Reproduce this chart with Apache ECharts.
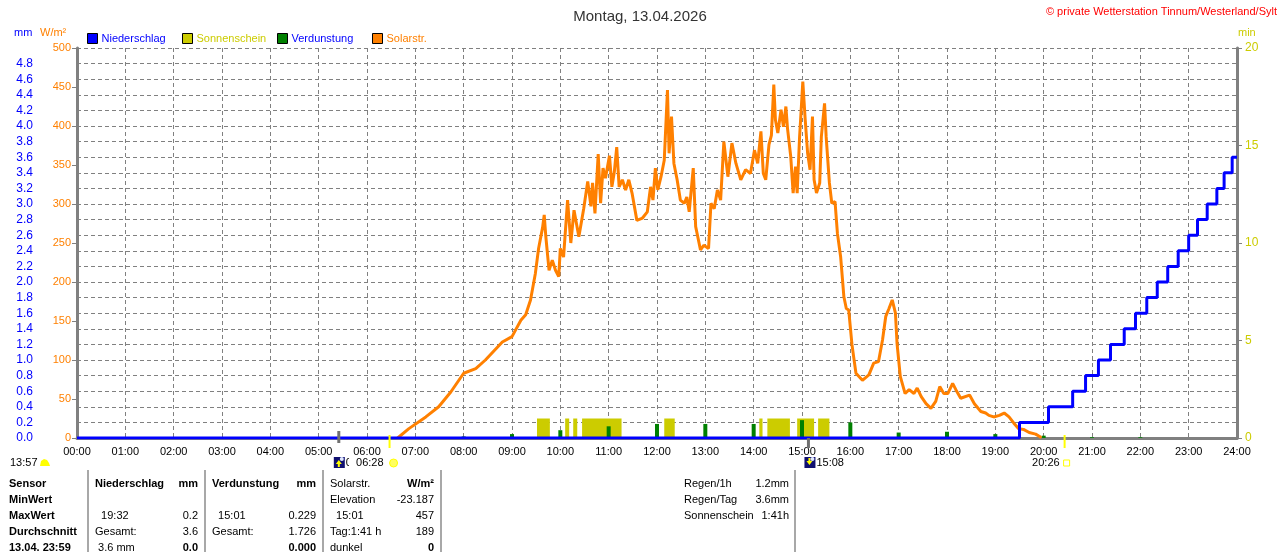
<!DOCTYPE html>
<html>
<head>
<meta charset="utf-8">
<script src="https://cdn.jsdelivr.net/npm/echarts@6/dist/echarts.min.js"></script>
<style>
  html, body { margin: 0; padding: 0; background: #fff; }
  #chart { width: 1280px; height: 552px; }
</style>
</head>
<body>
<div id="chart"></div>
<script>
// Zeitachse in Minuten seit 00:00
const hourTicks = 60

// Niederschlag (Summe mm), Stufen
const rainTimes = ['00:00', '19:30', '20:06', '20:36', '20:52', '21:08', '21:23', '21:40', '21:54', '22:08',
  '22:21', '22:34', '22:47', '23:00', '23:11', '23:23', '23:35', '23:44', '23:54', '24:00']
const rainValues = [0, 0.2, 0.4, 0.6, 0.8, 1.0, 1.2, 1.4, 1.6, 1.8,
  2.0, 2.2, 2.4, 2.6, 2.8, 3.0, 3.2, 3.4, 3.6, 3.6]

// Sonnenschein (min), Intervalle
const sunStart = ['09:31', '10:06', '10:16', '10:27', '12:09', '14:07', '14:17', '14:54', '15:20']
const sunEnd = ['09:47', '10:11', '10:21', '11:16', '12:22', '14:11', '14:45', '15:15', '15:34']
const sunValues = [1, 1, 1, 1, 1, 1, 1, 1, 1]

// Verdunstung (mm) je Stunde
const evapTimes = ['01:00', '02:00', '03:00', '04:00', '05:00', '06:00', '08:00', '09:00', '10:00', '11:00',
  '12:00', '13:00', '14:00', '15:00', '16:00', '17:00', '18:00', '19:00', '20:00', '21:00', '22:00']
const evapValues = [0.01, 0.01, 0.01, 0.01, 0.01, 0.01, 0.02, 0.05, 0.10, 0.15,
  0.18, 0.18, 0.18, 0.229, 0.20, 0.07, 0.08, 0.05, 0.03, 0.01, 0.01]

// Solarstrahlung (W/m²)
const solarTimes = ['06:38', '06:40', '06:52', '07:13', '07:29', '07:44', '08:00', '08:15', '08:27', '08:48',
  '09:00', '09:11', '09:17', '09:23', '09:29', '09:33', '09:38', '09:40', '09:42', '09:46',
  '09:50', '09:54', '09:58', '10:00', '10:04', '10:09', '10:13', '10:17', '10:23', '10:29',
  '10:34', '10:38', '10:40', '10:43', '10:47', '10:50', '10:53', '10:56', '11:01', '11:04',
  '11:07', '11:10', '11:13', '11:17', '11:21', '11:25', '11:29', '11:35', '11:42', '11:48',
  '11:52', '11:55', '11:58', '12:01', '12:05', '12:09', '12:13', '12:15', '12:18', '12:21',
  '12:25', '12:29', '12:34', '12:37', '12:40', '12:45', '12:48', '12:54', '12:58', '13:04',
  '13:07', '13:11', '13:15', '13:19', '13:23', '13:28', '13:33', '13:38', '13:44', '13:50',
  '13:56', '14:01', '14:05', '14:09', '14:12', '14:15', '14:19', '14:22', '14:25', '14:27',
  '14:30', '14:34', '14:37', '14:40', '14:42', '14:46', '14:49', '14:52', '14:54', '14:57',
  '14:59', '15:01', '15:04', '15:07', '15:10', '15:13', '15:15', '15:18', '15:22', '15:24',
  '15:28', '15:30', '15:34', '15:37', '15:41', '15:44', '15:48', '15:52', '15:55', '15:58',
  '16:02', '16:04', '16:07', '16:15', '16:23', '16:29', '16:35', '16:40', '16:44', '16:48',
  '16:52', '16:56', '16:58', '17:02', '17:08', '17:13', '17:19', '17:23', '17:28', '17:34',
  '17:40', '17:46', '17:51', '17:56', '18:01', '18:07', '18:11', '18:17', '18:28', '18:34',
  '18:42', '18:48', '18:52', '18:58', '19:05', '19:11', '19:17', '19:23', '19:29', '19:35',
  '19:42', '19:50', '19:55', '19:57']
const solarValues = [0, 2, 12, 27, 40, 59, 83, 89, 100, 123,
  130, 151, 158, 177, 211, 243, 270, 286, 258, 215,
  228, 215, 207, 243, 232, 305, 250, 292, 258, 294,
  329, 297, 327, 288, 364, 301, 346, 333, 362, 322,
  341, 373, 322, 331, 318, 331, 314, 279, 282, 290,
  322, 305, 346, 318, 335, 356, 446, 365, 412, 352,
  331, 305, 301, 309, 290, 346, 271, 241, 247, 243,
  301, 294, 318, 305, 380, 335, 378, 352, 331, 344,
  339, 369, 352, 393, 339, 331, 376, 388, 453, 408,
  391, 421, 399, 425, 397, 361, 314, 348, 314, 386,
  421, 457, 408, 365, 344, 412, 331, 314, 327, 386,
  429, 386, 327, 301, 303, 262, 232, 181, 166, 164,
  120, 105, 83, 74, 81, 96, 98, 126, 156, 166,
  177, 160, 121, 79, 57, 62, 57, 64, 53, 44,
  38, 47, 66, 57, 57, 70, 62, 51, 55, 44,
  34, 32, 29, 27, 29, 32, 27, 19, 12, 11,
  7, 5, 2, 0]

// Sonne / Mond
const sunRise = '06:28'
const sunSet = '20:26'
const moonRise = '05:25'
const moonSet = '15:08'

// Tabelle unten
const tableRows = [
  ['Sensor', 'Niederschlag', 'mm', 'Verdunstung', 'mm', 'Solarstr.', 'W/m²'],
  ['MinWert', '', '', '', '', 'Elevation', '-23.187'],
  ['MaxWert', '  19:32', '0.2', '  15:01', '0.229', '  15:01', '457'],
  ['Durchschnitt', 'Gesamt:', '3.6', 'Gesamt:', '1.726', 'Tag:1:41 h', '189'],
  ['13.04. 23:59', ' 3.6 mm', '0.0', '', '0.000', 'dunkel', '0']
]
const infoLabels = ['Regen/1h', 'Regen/Tag', 'Sonnenschein']
const infoValues = ['1.2mm', '3.6mm', '1:41h']

const toMin = (s) => {
  const [h, m] = s.split(':').map(Number)
  return h * 60 + m
}
const pad = (n) => String(n).padStart(2, '0')

const FONT = '"Liberation Sans", Arial, sans-serif'
const GRAY = '#808080'
const BLUE = '#0000ff'
const ORANGE = '#ff8000'
const YELLOW = '#cccc00'
const GREEN = '#008000'

const chart = echarts.init(document.getElementById('chart'))

const legendAt = (left, name, color) => ({
  left, top: 33, padding: 0, itemWidth: 10, itemHeight: 10, icon: 'rect',
  itemStyle: { borderColor: '#000', borderWidth: 1 },
  selectedMode: false,
  textStyle: { color, fontSize: 11, fontFamily: FONT, padding: [0, 0, 0, -1] },
  data: [name]
})

chart.setOption({
  animation: false,
  textStyle: { fontFamily: FONT },
  title: {
    text: 'Montag, 13.04.2026', left: 'center', top: 4,
    textStyle: { fontSize: 15, fontWeight: 'normal', color: '#333', fontFamily: FONT }
  },
  legend: [
    legendAt(87, 'Niederschlag', BLUE),
    legendAt(182, 'Sonnenschein', YELLOW),
    legendAt(277, 'Verdunstung', BLUE),
    legendAt(372, 'Solarstr.', ORANGE)
  ],
  grid: { left: 77, right: 43, top: 48, bottom: 114, show: false },
  xAxis: [{
    type: 'value', min: 0, max: 1440, interval: hourTicks,
    axisLine: { show: true, onZero: false, lineStyle: { color: GREEN, width: 1 } },
    axisTick: { show: false },
    axisLabel: { color: '#000', fontSize: 11, margin: 8, showMaxLabel: true, formatter: (v) => pad(v / 60) + ':00' },
    splitLine: { show: true, lineStyle: { color: GRAY, type: [4, 3], width: 1 } }
  }, {
    type: 'value', min: 0, max: 1440, interval: hourTicks, position: 'top',
    axisLine: { show: true, lineStyle: { color: GRAY, width: 3 } },
    axisTick: { show: false }, axisLabel: { show: false }, splitLine: { show: false }
  }],
  yAxis: [{
    type: 'value', min: 0, max: 5, interval: 0.2, position: 'left', offset: 37,
    axisLine: { show: true, lineStyle: { color: GRAY, width: 1 } },
    axisTick: { show: true, inside: true, length: 4, lineStyle: { color: GRAY } },
    axisLabel: { color: BLUE, fontSize: 12, margin: 7, formatter: (v) => (v >= 4.99 ? '' : v.toFixed(1)) },
    splitLine: { show: true, lineStyle: { color: GRAY, type: [4, 3], width: 1 } }
  }, {
    type: 'value', min: 0, max: 500, interval: 50, position: 'left', offset: 0,
    axisLine: { show: true, lineStyle: { color: GRAY, width: 3 } },
    axisTick: { show: true, length: 5, lineStyle: { color: GRAY } },
    axisLabel: { color: ORANGE, fontSize: 11, margin: 6 },
    splitLine: { show: false }
  }, {
    type: 'value', min: 0, max: 20, interval: 5, position: 'right',
    axisLine: { show: true, lineStyle: { color: GRAY, width: 3 } },
    axisTick: { show: true, length: 5, lineStyle: { color: GRAY } },
    axisLabel: { color: YELLOW, fontSize: 12, margin: 8 },
    splitLine: { show: false }
  }],
  series: [{
    name: 'Sonnenschein', type: 'custom', xAxisIndex: 0, yAxisIndex: 2,
    itemStyle: { color: YELLOW },
    encode: { x: [0, 1], y: 2 },
    data: sunStart.map((s, i) => [toMin(s), toMin(sunEnd[i]), sunValues[i]]),
    renderItem: (params, api) => {
      const p1 = api.coord([api.value(0), api.value(2)])
      const p2 = api.coord([api.value(1), 0])
      return {
        type: 'rect',
        shape: { x: p1[0], y: p1[1], width: p2[0] - p1[0], height: p2[1] - p1[1] },
        style: { fill: YELLOW }
      }
    }
  }, {
    name: 'Verdunstung', type: 'bar', xAxisIndex: 0, yAxisIndex: 0,
    color: GREEN, barWidth: 4,
    data: evapTimes.map((t, i) => [toMin(t), evapValues[i]])
  }, {
    name: 'Solarstr.', type: 'line', xAxisIndex: 0, yAxisIndex: 1,
    color: ORANGE, showSymbol: false, symbol: 'none',
    lineStyle: { width: 3, color: ORANGE },
    data: solarTimes.map((t, i) => [toMin(t), solarValues[i]])
  }, {
    name: 'Niederschlag', type: 'line', xAxisIndex: 0, yAxisIndex: 0,
    color: BLUE, showSymbol: false, symbol: 'none', step: 'end',
    lineStyle: { width: 3, color: BLUE },
    data: rainTimes.map((t, i) => [toMin(t), rainValues[i]])
  }]
})

// Texte und Marker
const txt = (x, y, text, o = {}) => ({
  type: 'text', x, y, silent: true,
  style: {
    text, fill: o.color || '#000', font: (o.bold ? 'bold ' : '') + (o.size || 11) + 'px ' + FONT,
    align: o.align || 'left', verticalAlign: 'middle',
    backgroundColor: o.bg, padding: o.bg ? [0, 2, 0, 7] : 0
  },
  z: o.z || 10
})
const vline = (x, y1, y2, color, w) => ({
  type: 'line', silent: true, z: 20,
  shape: { x1: x, y1, x2: x, y2 }, style: { stroke: color, lineWidth: w }
})
const px = (t) => chart.convertToPixel({ xAxisIndex: 0 }, toMin(t))

const g = []
g.push(txt(1277, 12, '© private Wetterstation Tinnum/Westerland/Sylt', { color: '#ff0000', align: 'right' }))
g.push(txt(14, 33, 'mm', { color: BLUE }))
g.push(txt(40, 33, 'W/m²', { color: ORANGE }))
g.push(txt(1238, 33, 'min', { color: YELLOW }))

// Sonnenauf-/untergang, Mondauf-/untergang
const xRise = px(sunRise), xSet = px(sunSet), xMR = px(moonRise), xMS = px(moonSet)
g.push(vline(xMR, 431, 443, '#707070', 3))
g.push(vline(xMS, 438, 448, '#707070', 3))
g.push(vline(xRise, 435, 448, '#ffff00', 2))
g.push(vline(xSet, 435, 448, '#ffff00', 2))
const moonIcon = (x, up) => ({
  type: 'group', x, y: 457, children: [
    { type: 'rect', shape: { x: 0, y: 0, width: 11, height: 11 }, style: { fill: '#101070' } },
    { type: 'polygon', shape: { points: up ? [[5, 3], [2, 7], [8, 7]] : [[5, 8], [2, 4], [8, 4]] }, style: { fill: '#ffff00' } },
    { type: 'rect', shape: { x: 4, y: up ? 7 : 1, width: 2, height: 3 }, style: { fill: '#ffff00' } },
    { type: 'circle', shape: { cx: 8, cy: 2, r: 2 }, style: { fill: '#e0e8ff' } }
  ]
})
g.push(moonIcon(xMR - 5, true))
g.push(txt(xMR + 7, 463, '05:25'))
g.push(txt(xRise - 4, 463, '06:28', { align: 'right', bg: '#fff', z: 11 }))
g.push({ type: 'circle', shape: { cx: xRise + 4, cy: 463, r: 4 }, style: { fill: '#ffff60', stroke: '#ffff00' }, z: 12 })
g.push(moonIcon(xMS - 4, false))
g.push(txt(xMS + 8, 463, '15:08'))
g.push(txt(xSet - 5, 463, '20:26', { align: 'right' }))
g.push({ type: 'rect', shape: { x: xSet - 1, y: 460, width: 6, height: 6 }, style: { fill: '#fff', stroke: '#ffff00', lineWidth: 1 }, z: 12 })
g.push(txt(10, 463, '13:57'))
g.push({ type: 'polygon', shape: { points: [[40, 466], [41, 461], [44, 459], [47, 460], [49, 463], [50, 466]] }, style: { fill: '#ffff00' }, z: 12 })

// Tabelle
const rowY = [484, 500, 516, 532, 548]
const leftX = [9, 95, 212, 330]
const rightX = [198, 316, 434]
tableRows.forEach((row, r) => {
  g.push(txt(leftX[0], rowY[r], row[0], { bold: true }))
  for (let c = 0; c < 3; c++) {
    const l = row[1 + c * 2], v = row[2 + c * 2]
    const boldL = r === 0 && c < 2
    const boldV = r === 0 || r === 4
    if (l) g.push(txt(leftX[c + 1], rowY[r], l, { bold: boldL }))
    if (v) g.push(txt(rightX[c], rowY[r], v, { bold: boldV, align: 'right' }))
  }
})
infoLabels.forEach((l, i) => {
  g.push(txt(684, rowY[i], l))
  g.push(txt(789, rowY[i], infoValues[i], { align: 'right' }))
})
;[88, 205, 323, 441, 795].forEach((x) => g.push(vline(x, 470, 552, '#a8a8a8', 2)))

chart.setOption({ graphic: g })
</script>
</body>
</html>
